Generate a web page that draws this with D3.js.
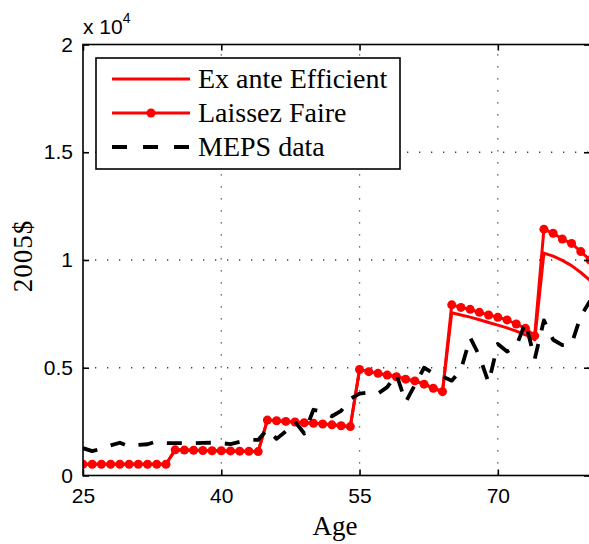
<!DOCTYPE html>
<html><head><meta charset="utf-8">
<script src="https://cdn.jsdelivr.net/npm/d3@7/dist/d3.min.js"></script>
<style>body{margin:0;background:#fff}svg{display:block}</style>
</head><body>
<svg id="chart" width="589" height="544"></svg>
<script>
// ---- data ----
const ages = [25,26,27,28,29,30,31,32,33,34,35,36,37,38,39,40,41,42,43,44,45,46,47,48,49,50,51,52,53,54,55,56,57,58,59,60,61,62,63,64,65,66,67,68,69,70,71,72,73,74,75,76,77,78,79,80];
const laissezFaire = [520,520,520,520,520,520,520,520,520,520,
  1190,1180,1170,1160,1150,1150,1140,1130,1120,1110,
  2570,2540,2510,2480,2450,2420,2390,2350,2310,2270,
  4920,4820,4740,4660,4580,4470,4390,4240,4050,3890,
  7920,7800,7710,7570,7450,7340,7220,7030,6830,6480,
  11430,11240,10970,10770,10390,10000];
const exAnte = [520,520,520,520,520,520,520,520,520,520,
  1190,1180,1170,1160,1150,1150,1140,1130,1120,1110,
  2570,2540,2510,2480,2450,2420,2390,2350,2310,2270,
  4920,4820,4740,4660,4580,4470,4390,4240,4050,3890,
  7550,7450,7350,7230,7100,6980,6850,6700,6530,6300,
  10320,10180,9980,9740,9420,9050];
const meps = [1270,1130,1250,1400,1520,1350,1420,1450,1580,1500,
  1500,1500,1500,1510,1520,1500,1460,1560,1650,1650,
  2150,1700,2050,2500,1950,3050,2950,2750,3000,3550,
  3800,3850,3800,4100,4700,3400,4200,5000,4750,4600,
  4400,4900,6400,5550,4300,6100,5750,6000,7100,5400,
  7200,6300,6050,6100,7400,8100];
const xTicks = [25,40,55,70];
const yTicks = [0,5000,10000,15000,20000];
const legendLabels = ["Ex ante Efficient","Laissez Faire","MEPS data"];

// ---- layout ----
const svg = d3.select("#chart");
const L = 83, R = 590, T = 44.5, B = 475.5;
const x = d3.scaleLinear().domain([25,80]).range([L,R]);
const y = d3.scaleLinear().domain([0,20000]).range([B,T]);
const tickFont = "'Liberation Sans', Arial, Helvetica, sans-serif";
const serif = "'Liberation Serif', 'Times New Roman', serif";

// grid
const grid = svg.append("g").attr("stroke","#444").attr("stroke-width",1.3).attr("stroke-dasharray","1.3,10.7");
grid.selectAll("line.gx").data(xTicks.filter(d=>d>25)).join("line")
  .attr("x1",d=>x(d)).attr("x2",d=>x(d)).attr("y1",B).attr("y2",T);
grid.selectAll("line.gy").data(yTicks.filter(d=>d>0 && d<20000)).join("line")
  .attr("y1",d=>y(d)).attr("y2",d=>y(d)).attr("x1",L).attr("x2",R);

// clip
svg.append("clipPath").attr("id","clip").append("rect").attr("x",L).attr("y",T-10).attr("width",R-L).attr("height",B-T+10);
const plot = svg.append("g").attr("clip-path","url(#clip)");

const line = (vals)=> d3.line().x((d,i)=>x(ages[i])).y(d=>y(d))(vals);

plot.append("path").attr("d",line(exAnte)).attr("fill","none").attr("stroke","#ff0000").attr("stroke-width",3).attr("stroke-linejoin","round");
plot.append("path").attr("d",line(laissezFaire)).attr("fill","none").attr("stroke","#ff0000").attr("stroke-width",3).attr("stroke-linejoin","round");
plot.selectAll("circle.lf").data(laissezFaire).join("circle")
  .attr("cx",(d,i)=>x(ages[i])).attr("cy",d=>y(d)).attr("r",4.5).attr("fill","#ff0000");
plot.append("path").attr("d",line(meps)).attr("fill","none").attr("stroke","#000").attr("stroke-width",3.8)
  .attr("stroke-dasharray","15,14").attr("stroke-linejoin","round");

// axes box
const ax = svg.append("g").attr("stroke","#000").attr("stroke-width",1.6).attr("fill","none");
ax.append("rect").attr("x",L).attr("y",T).attr("width",R-L).attr("height",B-T);

// ticks via d3 axes (inward)
const xAxisB = d3.axisBottom(x).tickValues(xTicks).tickSize(-6).tickPadding(13).tickFormat(d3.format("d"));
const gxb = svg.append("g").attr("transform",`translate(0,${B})`).call(xAxisB);
const xAxisT = d3.axisTop(x).tickValues(xTicks).tickSize(-6).tickFormat("");
const gxt = svg.append("g").attr("transform",`translate(0,${T})`).call(xAxisT);
const yAxisL = d3.axisLeft(y).tickValues(yTicks).tickSize(-6).tickPadding(10).tickFormat(d=>d3.format("")(d/10000));
const gyl = svg.append("g").attr("transform",`translate(${L},0)`).call(yAxisL);
const yAxisR = d3.axisRight(y).tickValues(yTicks).tickSize(-6).tickFormat("");
const gyr = svg.append("g").attr("transform",`translate(${R},0)`).call(yAxisR);
[gxb,gxt,gyl,gyr].forEach(g=>{
  g.select(".domain").remove();
  g.selectAll(".tick line").attr("stroke","#000").attr("stroke-width",1.6);
  g.selectAll("text").attr("fill","#000").style("font-family",tickFont).style("font-size","21px");
});
gxb.selectAll("text").attr("dy","0.71em");

// multiplier
const mult = svg.append("text").attr("x",83).attr("y",34).style("font-family",tickFont).style("font-size","21px").attr("fill","#000");
mult.append("tspan").text("x 10");
mult.append("tspan").attr("dy",-11).style("font-size","14px").text("4");

// axis labels
svg.append("text").attr("x",335).attr("y",535).attr("text-anchor","middle")
  .style("font-family",serif).style("font-size","27px").text("Age");
svg.append("text").attr("transform","translate(32,256) rotate(-90)").attr("text-anchor","middle")
  .style("font-family",serif).style("font-size","27px").style("letter-spacing","1px").text("2005$");

// legend
const lg = svg.append("g");
lg.append("rect").attr("x",96).attr("y",58).attr("width",304).attr("height",111)
  .attr("fill","#fff").attr("stroke","#000").attr("stroke-width",1.6);
const ly = [79,113,147];
lg.append("line").attr("x1",112).attr("x2",190).attr("y1",ly[0]).attr("y2",ly[0]).attr("stroke","#ff0000").attr("stroke-width",3);
lg.append("line").attr("x1",112).attr("x2",190).attr("y1",ly[1]).attr("y2",ly[1]).attr("stroke","#ff0000").attr("stroke-width",3);
lg.append("circle").attr("cx",151).attr("cy",ly[1]).attr("r",4.5).attr("fill","#ff0000");
lg.append("line").attr("x1",112).attr("x2",190).attr("y1",ly[2]).attr("y2",ly[2]).attr("stroke","#000").attr("stroke-width",3.8).attr("stroke-dasharray","15,16");
lg.selectAll("text.lt").data(legendLabels).join("text")
  .attr("x",198).attr("y",(d,i)=>ly[i]+9).style("font-family",serif).style("font-size","28px").attr("fill","#000").text(d=>d);
</script>
</body></html>
